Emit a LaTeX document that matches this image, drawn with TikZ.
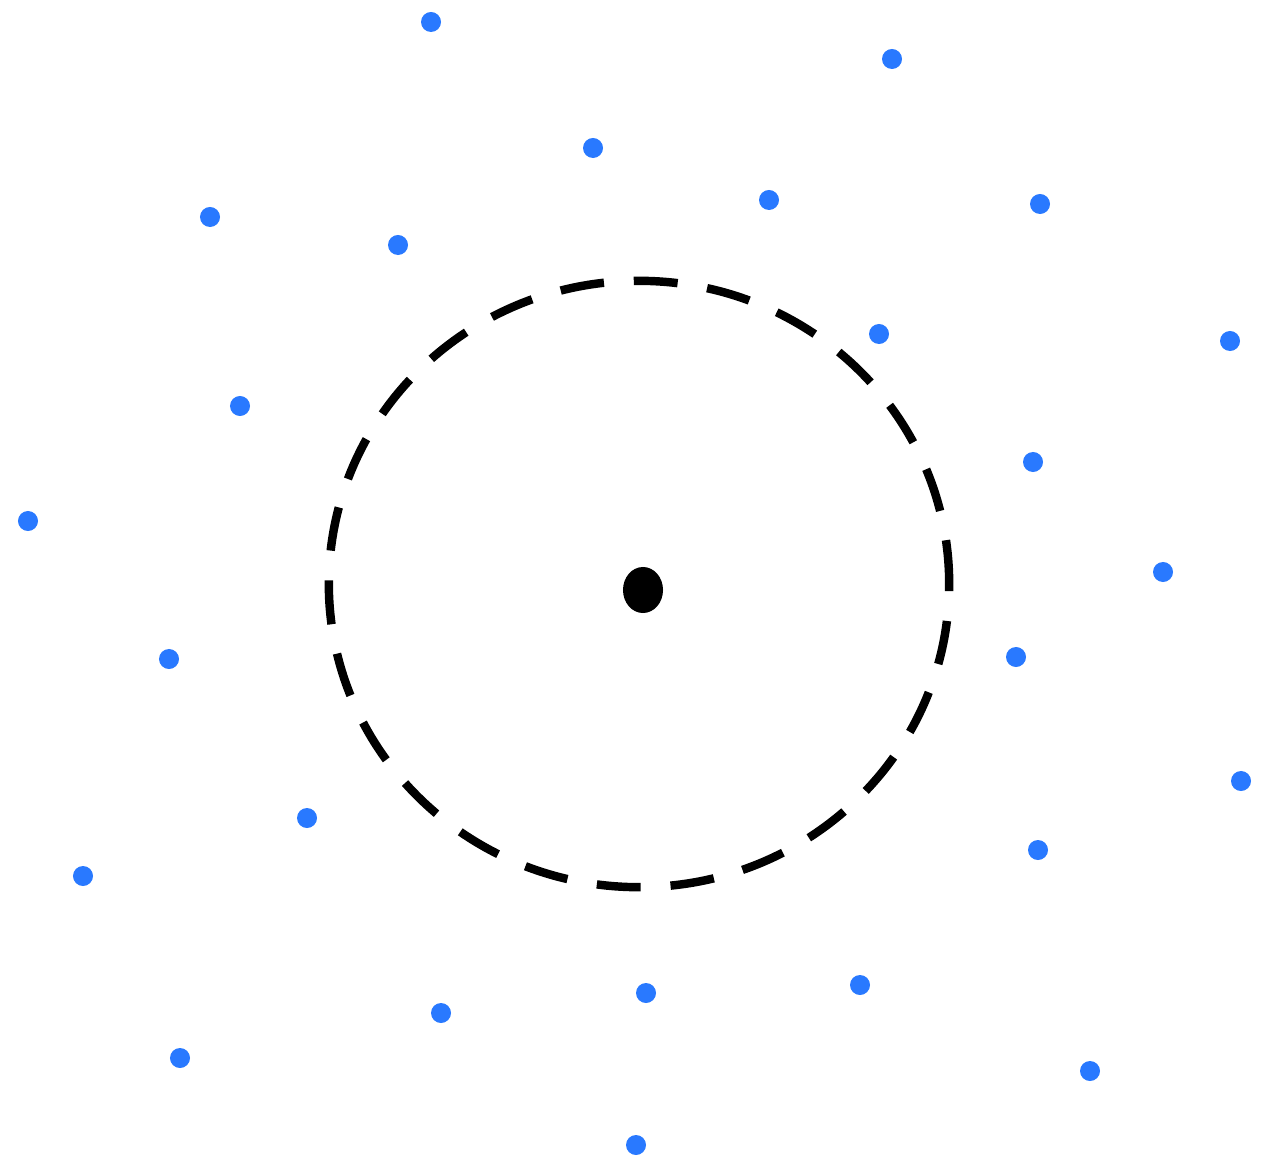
\documentclass[tikz,border=0pt]{standalone}
\usepackage{xcolor}
\usepackage{tikz}
\definecolor{dotblue}{RGB}{41,121,255}
\tikzset{
  point/.style={circle, fill=dotblue, inner sep=0pt, minimum size=2mm},
  centre/.style={ellipse, fill=black, inner sep=0pt,
                 minimum width=4mm, minimum height=4.6mm},
  ring/.style={draw=black, line width=2.4pt, dash pattern=on 12.5pt off 8.5pt}
}
\usetikzlibrary{shapes.geometric}

\begin{document}
\begin{tikzpicture}[x=0.01cm, y=-0.01cm]
    \useasboundingbox (0,0) rectangle (1276,1158);

    % the ring and its centre
    \coordinate (o) at (639,584);
    \draw[ring] (o) ellipse [x radius=3.1cm, y radius=3.03cm];
    \node[centre] (c) at (643,590) {};

    % scattered points
    \foreach \x/\y [count=\i] in {431/22, 892/59, 593/148, 210/217, 769/200,
        1040/204, 398/245, 879/334, 1230/341, 240/406, 1033/462, 28/521,
        1163/572, 169/659, 1016/657, 1241/781, 307/818, 1038/850, 83/876,
        646/993, 860/985, 441/1013, 180/1058, 1090/1071, 636/1145}
      \node[point] (p\i) at (\x,\y) {};
\end{tikzpicture}
\end{document}
